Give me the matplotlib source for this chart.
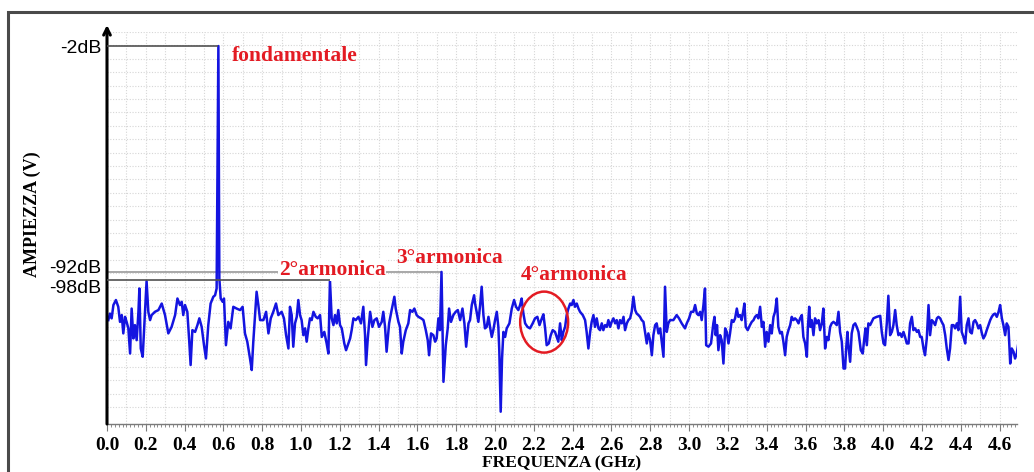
import numpy as np
import matplotlib
matplotlib.use("Agg")
import matplotlib.pyplot as plt
from matplotlib.patches import Ellipse, Rectangle

# spectrum trace (GHz, dB), split by frequency band
freq_a = [0.007, 0.015, 0.024, 0.033, 0.046, 0.058, 0.067, 0.076, 0.084, 0.093,
          0.101, 0.110, 0.119, 0.127, 0.136, 0.144, 0.153, 0.162, 0.167, 0.174,
          0.184, 0.196, 0.204, 0.213, 0.222, 0.230, 0.247, 0.265, 0.282, 0.299,
          0.316, 0.333, 0.351, 0.363, 0.376, 0.385, 0.393, 0.402, 0.414, 0.424,
          0.431, 0.440, 0.454, 0.466, 0.476, 0.488, 0.500, 0.510, 0.522, 0.534,
          0.548, 0.557, 0.565, 0.574, 0.579, 0.586, 0.596, 0.603, 0.613, 0.625,
          0.637, 0.651, 0.668, 0.686, 0.699, 0.711, 0.723, 0.737, 0.746, 0.754,
          0.763, 0.771, 0.780, 0.789, 0.806, 0.820, 0.832, 0.844, 0.857, 0.871,
          0.883, 0.900, 0.912, 0.923, 0.935]
amp_a = [-111.2, -108.6, -110.5, -105.2, -103.2, -105.9, -111.9, -109.2, -116.5, -109.9,
         -111.9, -114.5, -124.5, -106.6, -118.5, -113.2, -119.2, -107.9, -98.6, -122.5,
         -125.8, -107.9, -95.7, -107.9, -111.2, -109.2, -107.9, -107.2, -104.6, -109.2,
         -116.5, -113.9, -109.2, -102.6, -105.2, -103.9, -109.2, -105.2, -107.9, -119.8,
         -129.1, -115.2, -115.9, -113.2, -110.5, -113.9, -121.2, -126.5, -113.2, -104.6,
         -101.9, -101.3, -98.6, -2.0, -94.6, -102.6, -103.9, -102.6, -121.2, -111.9,
         -114.5, -105.9, -106.6, -107.2, -105.9, -116.5, -119.8, -126.5, -131.1, -119.8,
         -109.2, -99.9, -105.2, -111.2, -111.2, -107.9, -116.5, -110.5, -107.9, -104.6,
         -109.2, -107.9, -110.5, -117.2, -122.5]

freq_b = [0.943, 0.952, 0.960, 0.969, 0.978, 0.986, 0.995, 1.003, 1.012, 1.021,
          1.029, 1.038, 1.046, 1.055, 1.064, 1.076, 1.086, 1.098, 1.107, 1.120,
          1.132, 1.141, 1.149, 1.158, 1.167, 1.175, 1.184, 1.192, 1.201, 1.210,
          1.223, 1.232, 1.244, 1.253, 1.261, 1.270, 1.282, 1.296, 1.309, 1.321,
          1.330, 1.335, 1.344, 1.356, 1.368, 1.378, 1.390, 1.402, 1.416, 1.424,
          1.433, 1.441, 1.454, 1.467, 1.481, 1.488, 1.502, 1.510, 1.519, 1.527,
          1.540, 1.553, 1.562, 1.574, 1.584, 1.596, 1.605, 1.619, 1.631, 1.643,
          1.653, 1.660, 1.670, 1.682, 1.691, 1.699, 1.708, 1.716, 1.724, 1.734,
          1.746, 1.756, 1.763, 1.773, 1.785, 1.797, 1.808, 1.820, 1.832, 1.842,
          1.851, 1.863, 1.871, 1.880, 1.892]
amp_b = [-105.9, -109.2, -121.8, -112.5, -109.9, -103.2, -109.2, -111.2, -117.2, -114.5,
         -119.8, -114.5, -110.5, -111.2, -107.9, -109.9, -110.5, -109.2, -117.9, -115.9,
         -120.5, -124.5, -95.2, -110.5, -113.2, -109.2, -112.5, -107.2, -113.2, -114.5,
         -120.5, -123.2, -120.5, -118.5, -115.2, -110.5, -111.2, -109.9, -112.5, -105.9,
         -117.2, -129.1, -118.5, -107.9, -113.9, -111.2, -110.5, -113.9, -111.9, -107.9,
         -113.9, -123.8, -112.5, -107.2, -101.9, -106.6, -111.9, -113.9, -124.5, -119.8,
         -115.2, -112.5, -107.2, -107.9, -106.6, -109.2, -109.9, -110.5, -111.2, -115.2,
         -119.2, -125.2, -116.5, -117.2, -119.8, -118.5, -110.5, -115.2, -92.0, -135.8,
         -121.2, -114.5, -106.6, -111.9, -109.2, -107.9, -107.2, -111.2, -106.6, -112.5,
         -121.8, -112.5, -111.2, -105.2, -101.3]

freq_c = [1.897, 1.905, 1.914, 1.923, 1.931, 1.940, 1.948, 1.957, 1.966, 1.974,
          1.983, 1.991, 2.000, 2.009, 2.017, 2.022, 2.029, 2.036, 2.043, 2.052,
          2.060, 2.074, 2.086, 2.098, 2.108, 2.120, 2.129, 2.137, 2.146, 2.155,
          2.167, 2.180, 2.194, 2.206, 2.218, 2.229, 2.241, 2.249, 2.258, 2.266,
          2.277, 2.287, 2.297, 2.309, 2.318, 2.326, 2.335, 2.344, 2.352, 2.361,
          2.369, 2.378, 2.387, 2.395, 2.404, 2.412, 2.421, 2.430, 2.438, 2.452,
          2.464, 2.472, 2.481, 2.490, 2.498, 2.507, 2.515, 2.524, 2.533, 2.541,
          2.550, 2.558, 2.567, 2.576, 2.584, 2.593, 2.601, 2.610, 2.619, 2.627,
          2.636, 2.644, 2.653, 2.662, 2.670, 2.679, 2.687, 2.696, 2.704, 2.713,
          2.722, 2.730, 2.739, 2.747, 2.756, 2.765, 2.773, 2.782, 2.790, 2.799,
          2.808, 2.816, 2.825, 2.833, 2.842]
amp_c = [-104.6, -107.9, -111.9, -105.2, -97.9, -109.2, -114.5, -113.9, -109.9, -113.9,
         -117.9, -115.2, -111.2, -107.9, -113.9, -123.8, -147.7, -126.5, -115.9, -117.9,
         -114.5, -112.5, -106.6, -103.2, -105.9, -107.2, -105.2, -102.6, -108.6, -112.5,
         -113.9, -114.5, -112.5, -110.5, -109.9, -113.2, -110.5, -108.9, -114.5, -121.2,
         -120.5, -117.2, -115.2, -115.9, -117.9, -119.8, -112.5, -119.2, -115.9, -113.9,
         -109.2, -106.6, -104.6, -105.2, -103.2, -105.9, -104.6, -106.6, -107.9, -109.2,
         -111.2, -115.9, -122.5, -115.9, -111.9, -109.2, -113.9, -110.5, -114.5, -115.2,
         -112.5, -115.2, -113.2, -113.9, -111.2, -113.9, -111.9, -110.5, -112.5, -111.2,
         -114.5, -111.2, -112.5, -109.9, -115.2, -112.5, -111.2, -110.5, -107.9, -101.9,
         -107.2, -108.6, -109.2, -109.9, -111.2, -111.9, -115.9, -120.5, -116.5, -119.2,
         -125.2, -117.2, -113.2, -112.5, -116.5]

freq_d = [2.851, 2.859, 2.868, 2.876, 2.885, 2.893, 2.902, 2.919, 2.936, 2.948,
          2.962, 2.979, 2.988, 3.000, 3.010, 3.022, 3.031, 3.040, 3.048, 3.057,
          3.065, 3.074, 3.082, 3.088, 3.100, 3.113, 3.125, 3.131, 3.137, 3.144,
          3.151, 3.160, 3.168, 3.177, 3.186, 3.194, 3.203, 3.211, 3.220, 3.229,
          3.237, 3.246, 3.254, 3.263, 3.271, 3.280, 3.285, 3.292, 3.302, 3.314,
          3.323, 3.332, 3.340, 3.349, 3.357, 3.366, 3.375, 3.383, 3.392, 3.400,
          3.409, 3.418, 3.426, 3.435, 3.443, 3.452, 3.460, 3.469, 3.478, 3.486,
          3.495, 3.503, 3.512, 3.521, 3.529, 3.538, 3.546, 3.555, 3.564, 3.572,
          3.581, 3.589, 3.598, 3.607, 3.612, 3.619, 3.625, 3.632, 3.641, 3.649,
          3.658, 3.667, 3.675, 3.684, 3.692, 3.701, 3.710, 3.718, 3.727, 3.735,
          3.744, 3.753, 3.761, 3.770, 3.778, 3.787, 3.796]
amp_d = [-114.5, -119.8, -125.8, -97.9, -115.9, -112.5, -111.2, -111.2, -109.2, -110.5,
         -112.5, -114.5, -112.5, -110.5, -107.9, -107.9, -105.2, -108.6, -109.2, -107.9,
         -111.2, -105.2, -98.6, -121.2, -121.8, -120.5, -112.5, -109.9, -117.2, -113.2,
         -123.2, -117.2, -119.2, -128.5, -114.5, -115.9, -120.5, -116.5, -111.2, -111.9,
         -110.5, -106.6, -109.9, -109.2, -111.2, -107.2, -104.6, -113.9, -115.2, -113.2,
         -111.9, -111.2, -109.9, -109.2, -110.5, -105.9, -113.9, -111.9, -121.8, -115.9,
         -119.8, -113.2, -116.5, -109.9, -107.9, -102.6, -113.9, -116.5, -115.9, -119.8,
         -125.2, -117.9, -115.2, -113.2, -109.9, -111.2, -110.5, -111.2, -112.5, -110.5,
         -109.2, -117.9, -120.5, -125.8, -114.5, -105.9, -113.9, -111.2, -117.2, -110.5,
         -112.5, -111.2, -115.2, -112.5, -106.6, -122.5, -117.9, -119.2, -113.9, -112.5,
         -111.9, -112.5, -113.2, -107.9, -115.9, -119.8, -130.5]

freq_e = [3.804, 3.809, 3.816, 3.821, 3.830, 3.838, 3.847, 3.856, 3.864, 3.873,
          3.885, 3.895, 3.902, 3.909, 3.916, 3.924, 3.933, 3.941, 3.950, 3.967,
          3.985, 3.993, 4.002, 4.010, 4.019, 4.027, 4.036, 4.045, 4.053, 4.062,
          4.070, 4.079, 4.088, 4.096, 4.105, 4.113, 4.122, 4.131, 4.139, 4.148,
          4.156, 4.165, 4.174, 4.182, 4.191, 4.199, 4.208, 4.216, 4.225, 4.234,
          4.242, 4.251, 4.259, 4.268, 4.277, 4.285, 4.294, 4.302, 4.311, 4.320,
          4.328, 4.337, 4.345, 4.354, 4.363, 4.371, 4.380, 4.388, 4.397, 4.405,
          4.414, 4.423, 4.431, 4.440, 4.448, 4.457, 4.466, 4.474, 4.483, 4.491,
          4.500, 4.509, 4.517, 4.526, 4.534, 4.543, 4.552, 4.560, 4.569, 4.577,
          4.586, 4.595, 4.603, 4.612, 4.620, 4.629, 4.637, 4.646, 4.655, 4.663,
          4.672, 4.680, 4.689, 4.698]
amp_e = [-130.5, -123.2, -115.9, -121.2, -127.8, -116.5, -113.2, -112.5, -113.9, -115.9,
         -123.2, -124.5, -119.2, -114.5, -121.2, -112.5, -113.2, -111.9, -110.5, -109.9,
         -109.5, -115.9, -120.5, -121.2, -112.5, -101.5, -117.2, -115.9, -113.2, -107.2,
         -113.2, -117.2, -116.5, -117.9, -115.9, -117.9, -120.5, -120.5, -112.5, -109.9,
         -115.2, -114.5, -115.9, -115.2, -117.9, -117.9, -122.5, -125.2, -118.5, -105.2,
         -117.2, -111.2, -111.9, -113.2, -110.5, -109.9, -110.5, -111.9, -113.2, -117.2,
         -122.5, -127.1, -122.5, -113.2, -113.2, -114.5, -112.5, -115.2, -101.9, -115.9,
         -117.9, -120.5, -113.2, -110.5, -115.9, -116.5, -111.9, -111.2, -112.5, -114.5,
         -113.2, -116.5, -118.5, -117.2, -115.2, -113.2, -111.2, -109.9, -108.9, -108.6,
         -109.9, -107.9, -105.2, -110.5, -113.2, -117.2, -112.5, -113.9, -128.5, -122.5,
         -123.8, -126.5, -124.5, -119.8]

# peaks: fundamental, 2nd and 3rd harmonic
peak_freq = [0.574, 1.149, 1.724]
peak_level = [-2.0, -95.2, -92.0]
peak_color = ['#505050', '#505050', '#9a9a9a']
ylabel_pos = [-2.0, -90.0, -98.0]
ylabel_txt = ['-2dB', '-92dB', '-98dB']

freq = np.array(freq_a + freq_b + freq_c + freq_d + freq_e)
amp = np.array(amp_a + amp_b + amp_c + amp_d + amp_e)

W, H = 1034, 472
fig = plt.figure(figsize=(W / 100, H / 100), dpi=100)
ax = fig.add_axes([107 / W, 1 - 424 / H, 910 / W, 392 / H])

red = '#e31b23'
serif = 'Liberation Serif'
sans = 'Liberation Sans'

# outer frame (goes off the right and bottom edge)
fig.add_artist(Rectangle((8 / W, -0.1), 1.2, 1 - 12 / H + 0.1, transform=fig.transFigure,
                         fill=False, ec='#4a4a4a', lw=2.2))

ax.set_xlim(0, 4.69)
ax.set_ylim(-152.6, 3.6)

# dotted grid
for gx in np.arange(0.1, 4.69, 0.1):
    ax.axvline(gx, color='#d6d6d6', lw=0.8, ls=(0, (1, 1.5)), zorder=0)
for gy in np.arange(3.6, -150, -5.34):
    ax.axhline(gy, color='#d6d6d6', lw=0.8, ls=(0, (1, 1.5)), zorder=0)

# reference level lines (the -92 one passes under the 2nd harmonic label)
for f, lv, c in zip(peak_freq, peak_level, peak_color):
    z = 2 if c == '#9a9a9a' else 5
    ax.hlines(lv, 0, f, color=c, lw=1.2, zorder=z)

ax.plot(freq, amp, color='#1414e0', lw=1.8, zorder=3)

# annotations
ax.text(0.644, -6.0, 'fondamentale', color=red, fontsize=15.5, fontweight='bold',
        family=serif, ha='left', va='center')
ax.text(1.160, -91.2, '2°armonica', color=red, fontsize=15.5, fontweight='bold',
        family=serif, ha='center', va='center', zorder=4,
        bbox=dict(fc='white', ec='none', pad=0.5))
ax.text(1.765, -86.5, '3°armonica', color=red, fontsize=15.5, fontweight='bold',
        family=serif, ha='center', va='center')
ax.text(2.410, -93.2, '4°armonica', color=red, fontsize=15.5, fontweight='bold',
        family=serif, ha='center', va='center')
ax.add_patch(Ellipse((2.253, -112.0), 0.247, 24.3, fill=False, ec=red, lw=1.8, zorder=4))

# axes styling
for s in ['top', 'right', 'left']:
    ax.spines[s].set_visible(False)
ax.spines['bottom'].set_color('#7a7a7a')
ax.spines['bottom'].set_linewidth(1.0)
ax.annotate('', xy=(0, 1 + 7 / 392), xytext=(0, 0), xycoords='axes fraction',
            arrowprops=dict(arrowstyle='->', lw=2.2, color='black', mutation_scale=12,
                            shrinkA=0, shrinkB=0), annotation_clip=False)

ax.set_xticks(np.arange(0, 4.61, 0.2))
ax.set_xticks(np.arange(0, 4.69, 0.02), minor=True)
ax.set_xticklabels(['%.1f' % v for v in np.arange(0, 4.61, 0.2)],
                   fontsize=14, fontweight='bold', family=serif)
ax.tick_params(axis='x', which='major', length=5, width=0.8, color='#7a7a7a', pad=4)
ax.tick_params(axis='x', which='minor', length=2.5, width=0.6, color='#7a7a7a')

ax.set_yticks(ylabel_pos)
ax.set_yticklabels(ylabel_txt, fontsize=14, family=sans)
ax.tick_params(axis='y', length=0, pad=4)

fig.text(562 / W, 1 - 463 / H, 'FREQUENZA (GHz)', fontsize=12.5, fontweight='bold',
         family=serif, ha='center', va='center')
fig.text(32 / W, 1 - 214 / H, 'AMPIEZZA (V)', fontsize=13, fontweight='bold',
         family=serif, ha='center', va='center', rotation=90)

fig.savefig('out.png', dpi=100)
